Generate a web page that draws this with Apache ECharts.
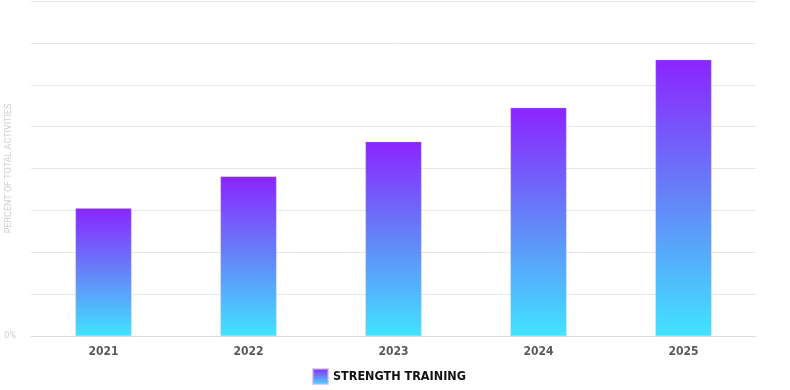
<!DOCTYPE html>
<html><head><meta charset="utf-8">
<script src="https://cdn.jsdelivr.net/npm/echarts@6/dist/echarts.min.js"></script>
<style>html,body{margin:0;padding:0;background:#fff}#c{width:790px;height:390px}</style>
</head><body><div id="c"></div>
<script>
const categories = ['2021', '2022', '2023', '2024', '2025'];
const strengthValues = [3.05, 3.81, 4.64, 5.45, 6.6];
const seriesName = 'STRENGTH TRAINING';
const yAxisName = 'PERCENT OF TOTAL ACTIVITIES';
const condensed = '"Liberation Sans Narrow", "DejaVu Sans Condensed", "Roboto", sans-serif';

const grad = () => new echarts.graphic.LinearGradient(0, 0, 0, 1, [
  { offset: 0, color: '#8a25ff' },
  { offset: 0.5, color: '#6484f8' },
  { offset: 1, color: '#40e4ff' }
]);

const chart = echarts.init(document.getElementById('c'));
chart.setOption({
  animation: false,
  grid: { left: 31, right: 34, top: 1, bottom: 54, outerBoundsMode: 'none', containLabel: false },
  legend: {
    left: 312, top: 368, padding: 0,
    itemWidth: 15, itemHeight: 15, itemGap: 7,
    icon: 'rect',
    textStyle: { fontFamily: condensed, fontWeight: 'bold', fontSize: 12.5, color: '#111' },
    data: [seriesName]
  },
  xAxis: {
    type: 'category', data: categories,
    axisLine: { lineStyle: { color: '#dcdcdc' } },
    axisTick: { show: false },
    axisLabel: { fontFamily: condensed, fontSize: 12, fontWeight: 'bold', color: '#5a5a5a', margin: 10 }
  },
  yAxis: {
    type: 'value', min: 0, max: 8, interval: 1,
    name: yAxisName, nameLocation: 'middle', nameGap: 18, nameMoveOverlap: false,
    nameTextStyle: { color: '#cfcfcf', fontSize: 9, fontFamily: 'Roboto, sans-serif' },
    axisLine: { show: false }, axisTick: { show: false },
    splitLine: { lineStyle: { color: '#e8e8e8' } },
    axisLabel: { formatter: v => v === 0 ? '0%' : '', color: '#cfcfcf', fontSize: 9, margin: 15, fontFamily: 'Roboto, sans-serif' }
  },
  series: [{
    name: seriesName, type: 'bar', data: strengthValues,
    barWidth: 56,
    itemStyle: { color: grad(), borderColor: 'rgba(200,170,255,0.6)', borderWidth: 0.5 }
  }]
});
</script></body></html>
